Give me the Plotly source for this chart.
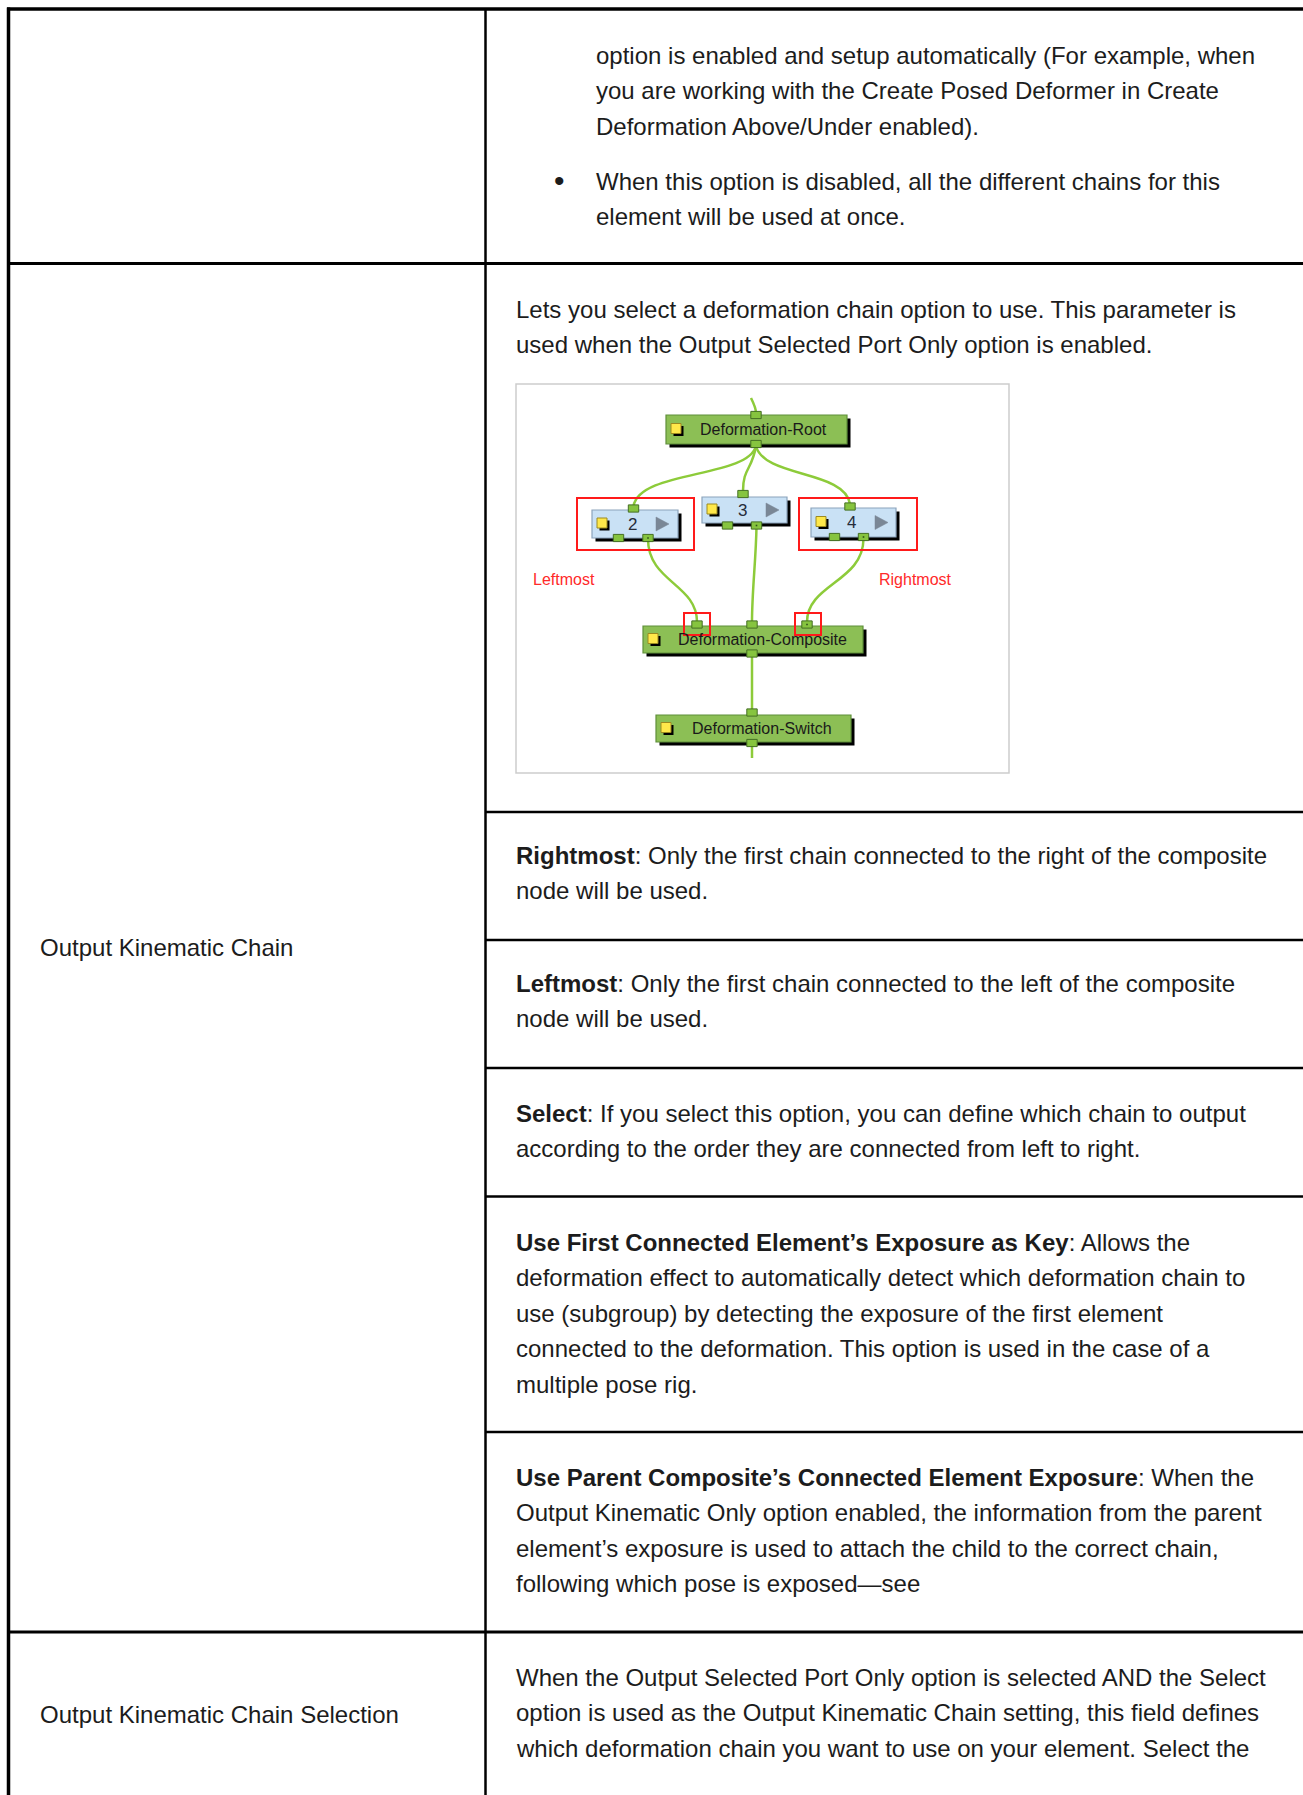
import plotly.graph_objects as go

W, H = 1303, 1795

# ---------------- content (data) ----------------
param_names = ["Output Kinematic Chain", "Output Kinematic Chain Selection"]

carry_lines = [
    "option is enabled and setup automatically (For example, when",
    "you are working with the Create Posed Deformer in Create",
    "Deformation Above/Under enabled).",
]
bullet_lines = [
    "When this option is disabled, all the different chains for this",
    "element will be used at once.",
]
intro_lines = [
    "Lets you select a deformation chain option to use. This parameter is",
    "used when the Output Selected Port Only option is enabled.",
]
option_terms = [
    "Rightmost",
    "Leftmost",
    "Select",
    "Use First Connected Element’s Exposure as Key",
    "Use Parent Composite’s Connected Element Exposure",
]
option_lines = [
    [": Only the first chain connected to the right of the composite",
     "node will be used."],
    [": Only the first chain connected to the left of the composite",
     "node will be used."],
    [": If you select this option, you can define which chain to output",
     "according to the order they are connected from left to right."],
    [": Allows the",
     "deformation effect to automatically detect which deformation chain to",
     "use (subgroup) by detecting the exposure of the first element",
     "connected to the deformation. This option is used in the case of a",
     "multiple pose rig."],
    [": When the",
     "Output Kinematic Only option enabled, the information from the parent",
     "element’s exposure is used to attach the child to the correct chain,",
     "following which pose is exposed—see"],
]
selection_lines = [
    "When the Output Selected Port Only option is selected AND the Select",
    "option is used as the Output Kinematic Chain setting, this field defines",
    "which deformation chain you want to use on your element. Select the",
]
node_names = ["Deformation-Root", "Deformation-Composite", "Deformation-Switch"]
chain_labels = ["2", "3", "4"]
side_labels = ["Leftmost", "Rightmost"]

# ---------------- layout / styles ----------------
FONT = "Liberation Sans, Arial, sans-serif"
TXT = "#1c1c1c"
FS = 24
LINE = 35.6

X_LEFT, X_DIV, Y_TOP = 8.5, 485.5, 9.0
FULL_ROW_LINES = [263.5, 1632.0]
SUB_ROW_LINES = [812.0, 940.0, 1068.0, 1196.5, 1432.0]

shapes = []
annotations = []


def line(x0, y0, x1, y1, color="#000", width=3):
    shapes.append(dict(type="line", x0=x0, y0=y0, x1=x1, y1=y1,
                       line=dict(color=color, width=width), layer="above"))


def rect(x0, y0, x1, y1, fill, lc=None, lw=0):
    shapes.append(dict(type="rect", x0=x0, y0=y0, x1=x1, y1=y1, fillcolor=fill,
                       line=dict(color=lc or fill, width=lw), layer="above"))


def path(d, color, width):
    shapes.append(dict(type="path", path=d, line=dict(color=color, width=width), layer="above"))


def text(x, y, s, size=FS, color=TXT, xanchor="left"):
    annotations.append(dict(x=x, y=y, xref="x", yref="y", text=s, showarrow=False,
                            xanchor=xanchor, yanchor="middle",
                            font=dict(family=FONT, size=size, color=color)))


# ---------------- table grid ----------------
line(X_LEFT, Y_TOP - 1.5, X_LEFT, H, width=3.5)
line(X_LEFT - 1.5, Y_TOP, W, Y_TOP, width=3.5)
line(X_DIV, Y_TOP, X_DIV, H, width=2.5)
for yl in FULL_ROW_LINES:
    line(X_LEFT, yl, W, yl, width=3)
for yl in SUB_ROW_LINES:
    line(X_DIV, yl, W, yl, width=2.5)

# ---------------- table text ----------------
XT = 514
for i, s in enumerate(carry_lines):
    text(594, 55 + i * LINE, s)
text(559, 180, "•", size=30, xanchor="center")
for i, s in enumerate(bullet_lines):
    text(594, 181 + i * LINE, s)
for i, s in enumerate(intro_lines):
    text(XT, 309 + i * LINE, s)

option_y0 = [855, 983, 1113, 1242, 1477]
for term, lines_, y0 in zip(option_terms, option_lines, option_y0):
    for i, s in enumerate(lines_):
        t = ("<b>" + term + "</b>" + s) if i == 0 else s
        text(XT, y0 + i * LINE, t)

for i, s in enumerate(selection_lines):
    text(XT, 1677 + i * LINE, s)

text(38, 947, param_names[0])
text(38, 1714, param_names[1])

# ---------------- diagram ----------------
rect(516, 384, 1009, 773, "#ffffff", "#cdcdcd", 1.5)

WIRE = "#8dcb3a"
GREEN = "#8cbf55"
GREEN_B = "#5f8f3a"
BLUE = "#c9e1f5"
BLUE_B = "#8ca4bc"
PORT = "#86c43f"
PORT_B = "#456f24"

# wires
path("M 751 398 C 754 404, 756 408, 756 413", WIRE, 2.5)
path("M 756 446 C 748 478, 640 470, 633.5 506", WIRE, 2.5)
path("M 756 446 C 752 470, 743 468, 743 491", WIRE, 2.5)
path("M 756 446 C 764 478, 845 470, 850 504", WIRE, 2.5)
path("M 648 539 C 648 582, 697 584, 697 622", WIRE, 2.5)
path("M 756.5 526 C 756 560, 752 590, 752 622", WIRE, 2.5)
path("M 863.5 539 C 863 582, 807 584, 807 622", WIRE, 2.5)
path("M 752 655 L 752 711", WIRE, 2.5)
path("M 752 745 L 752 758", WIRE, 2.5)


def icon(x, y, s=10):
    rect(x + 2.5, y + 2.5, x + s + 2.5, y + s + 2.5, "#000000")
    rect(x, y, x + s, y + s, "#ffe84a", "#9c8a20", 1)


def port(cx, cy, dot=False):
    rect(cx - 5.2, cy - 3.6, cx + 5.2, cy + 3.6, PORT, PORT_B, 1)
    if dot:
        rect(cx - 0.8, cy - 0.8, cx + 0.8, cy + 0.8, "#2f4f18")


def big_node(x0, y0, x1, y1, name, tx):
    rect(x0 + 3.5, y0 + 3.5, x1 + 3.5, y1 + 3.5, "#000000")
    rect(x0, y0, x1, y1, GREEN, GREEN_B, 1.2)
    icon(x0 + 5, (y0 + y1) / 2 - 6)
    text(tx, (y0 + y1) / 2, name, size=16, color="#1a1a1a", xanchor="center")


def chain_node(x0, y0, x1, y1, label):
    rect(x0 + 3.5, y0 + 3.5, x1 + 3.5, y1 + 3.5, "#000000")
    rect(x0, y0, x1, y1, BLUE, BLUE_B, 1.2)
    icon(x0 + 5, (y0 + y1) / 2 - 6)
    text(x0 + 40, (y0 + y1) / 2, label, size=17, color="#262c3a", xanchor="center")
    ym = (y0 + y1) / 2
    path(f"M {x0+64} {ym-7} L {x0+77} {ym} L {x0+64} {ym+7} Z", "#7a8796", 0.5)
    shapes[-1]["fillcolor"] = "#7a8796"


big_node(666, 415, 847, 444, node_names[0], 763)
port(756, 415)
port(756, 444)

chain_node(592, 510, 678, 538, chain_labels[0])
port(633.5, 508.5)
port(618.5, 538)
port(648, 538, dot=True)

chain_node(702, 497, 787, 523, chain_labels[1])
port(743, 494)
port(727.5, 525.5)
port(756.5, 525.5, dot=True)

chain_node(811, 508, 896, 537, chain_labels[2])
port(850, 506.5)
port(834.5, 537)
port(863.5, 537, dot=True)

big_node(643, 626, 863, 653, node_names[1], 762)
port(697, 624.5)
port(752, 624.5)
port(807, 624.5, dot=True)
port(752, 653.5)

big_node(656, 715, 851, 742, node_names[2], 762)
port(752, 712.5)
port(752, 743)

# red highlight boxes
RED = "#ff1a1a"
for (a, b, c, d) in [(577, 498, 694, 550), (799, 498, 917, 550),
                     (684, 613, 710, 635), (795, 613, 821, 635)]:
    shapes.append(dict(type="rect", x0=a, y0=b, x1=c, y1=d,
                       line=dict(color=RED, width=2), layer="above"))

text(531, 579, side_labels[0], size=16, color="#ff2a2a")
text(877, 579, side_labels[1], size=16, color="#ff2a2a")

# ---------------- figure ----------------
fig = go.Figure()
fig.update_layout(
    width=W, height=H,
    margin=dict(l=0, r=0, t=0, b=0),
    paper_bgcolor="#ffffff", plot_bgcolor="#ffffff",
    xaxis=dict(range=[0, W], visible=False, fixedrange=True),
    yaxis=dict(range=[H, 0], visible=False, fixedrange=True),
    shapes=shapes, annotations=annotations, showlegend=False,
)
fig.write_html("out.html", config={"displayModeBar": False, "staticPlot": True},
               post_script="document.body.style.margin='0';document.body.style.overflow='hidden';")
